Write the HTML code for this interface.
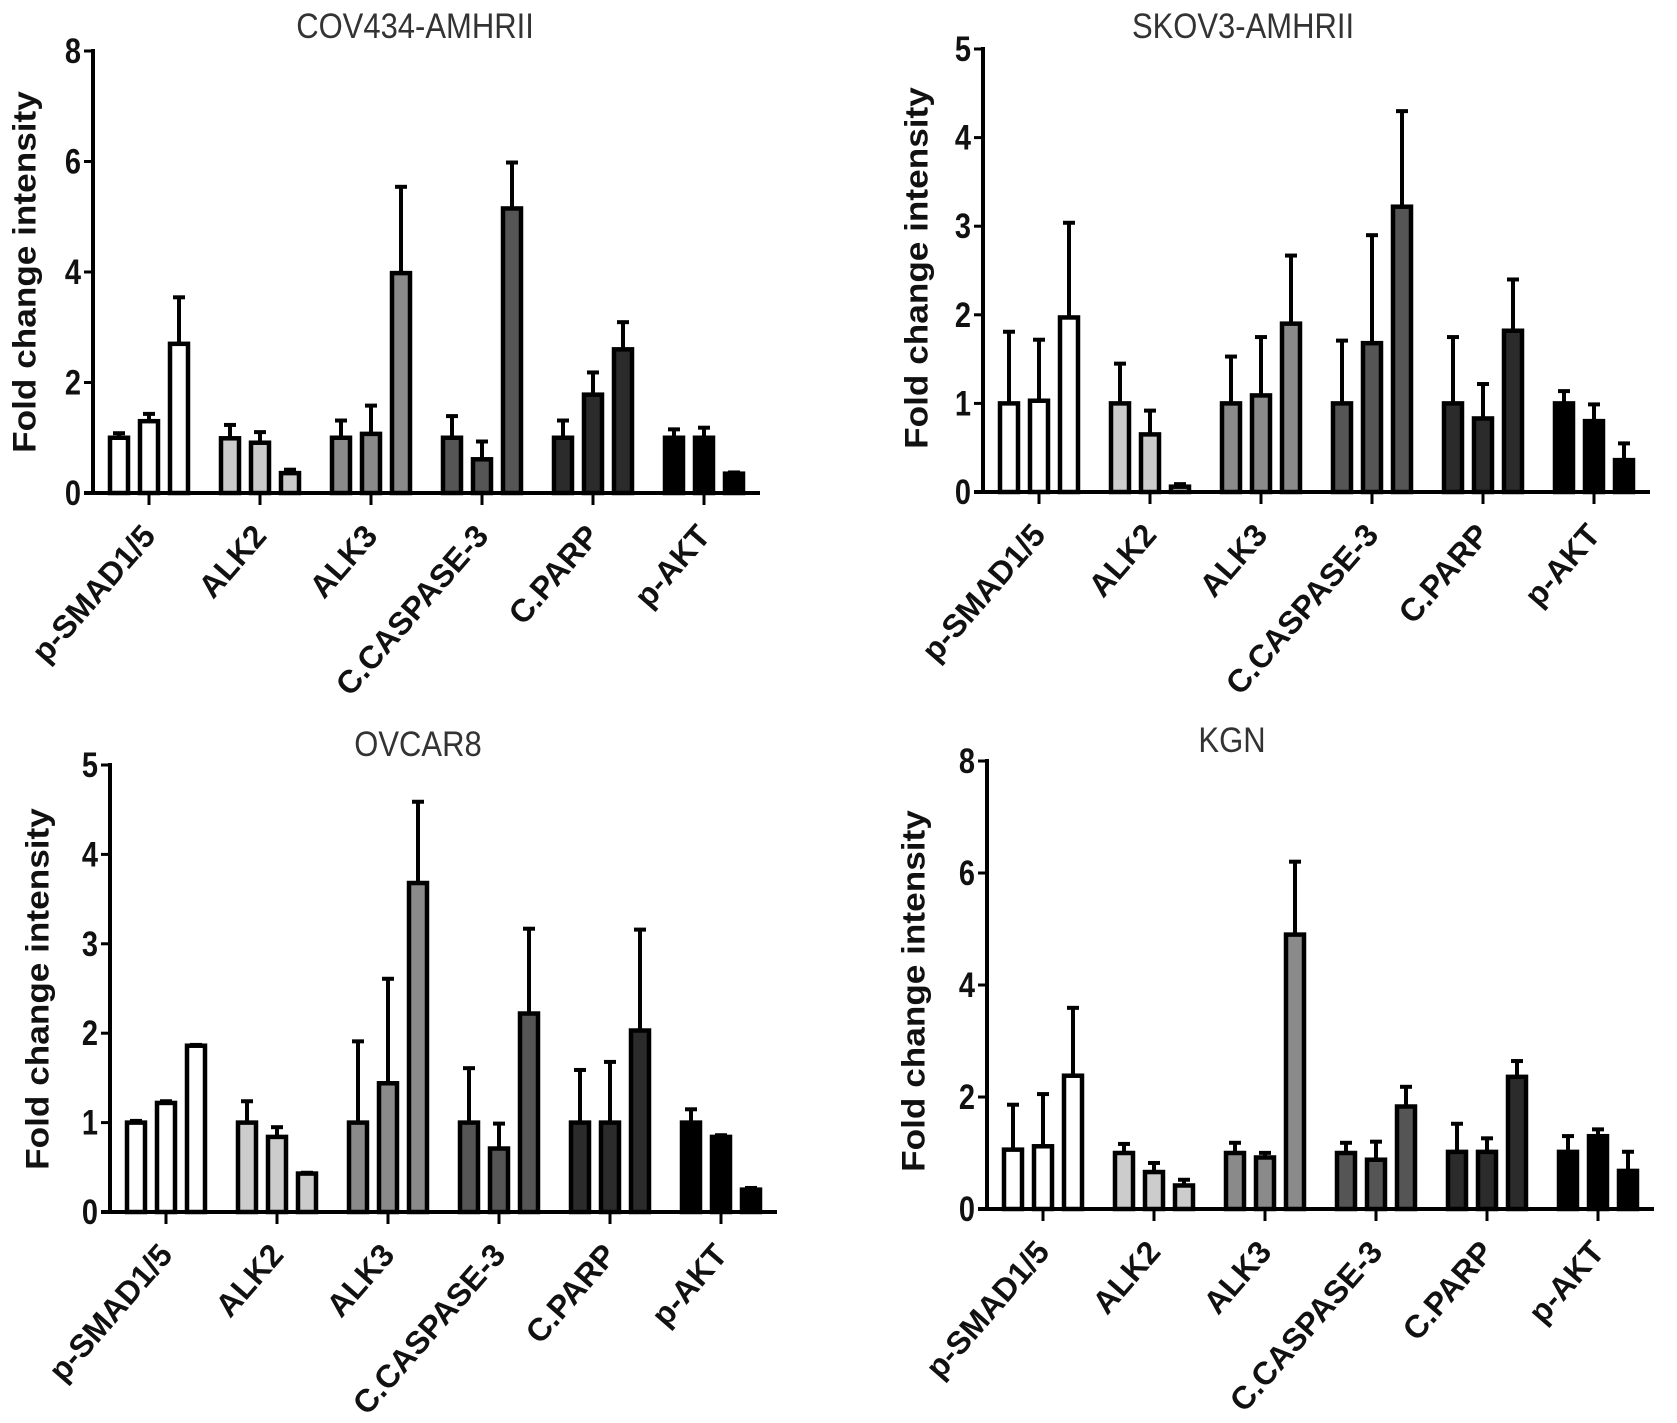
<!DOCTYPE html>
<html><head><meta charset="utf-8"><style>
html,body{margin:0;padding:0;background:#fff;}
svg{display:block;font-family:"Liberation Sans",Arial,sans-serif;}
</style></head><body>
<svg id="chart" width="1677" height="1423" viewBox="0 0 1677 1423" xmlns="http://www.w3.org/2000/svg"></svg>
<script>
const categories = ["p-SMAD1/5","ALK2","ALK3","C.CASPASE-3","C.PARP","p-AKT"];
const groupFills = ["#ffffff","#cccccc","#8a8a8a","#555555","#2b2b2b","#000000"];
const titles = ["COV434-AMHRII","SKOV3-AMHRII","OVCAR8","KGN"];
const yMaxes = [8,5,5,8];
const yTicks1 = [0,2,4,6,8];
const yTicks2 = [0,1,2,3,4,5];
const yTicks3 = [0,1,2,3,4,5];
const yTicks4 = [0,2,4,6,8];
const vals1 = [[1.0,1.3,2.7],[0.99,0.91,0.36],[1.0,1.07,3.98],[1.0,0.61,5.15],[1.0,1.78,2.6],[1.0,1.0,0.35]];
const errs1 = [[1.1,1.45,3.56],[1.25,1.12,0.44],[1.33,1.6,5.56],[1.41,0.95,6.0],[1.33,2.2,3.11],[1.17,1.2,0.39]];
const vals2 = [[1.0,1.03,1.97],[1.0,0.65,0.06],[1.0,1.09,1.9],[1.0,1.68,3.22],[1.0,0.83,1.82],[1.0,0.8,0.36]];
const errs2 = [[1.82,1.73,3.05],[1.46,0.93,0.1],[1.54,1.76,2.68],[1.72,2.91,4.31],[1.76,1.23,2.41],[1.15,1.0,0.56]];
const vals3 = [[1.0,1.22,1.86],[1.0,0.84,0.43],[1.0,1.44,3.68],[1.0,0.71,2.22],[1.0,1.0,2.03],[1.0,0.84,0.25]];
const errs3 = [[1.03,1.25,1.88],[1.25,0.96,0.45],[1.92,2.62,4.6],[1.62,1.0,3.18],[1.6,1.69,3.17],[1.16,0.87,0.28]];
const vals4 = [[1.06,1.12,2.38],[1.0,0.66,0.42],[1.0,0.92,4.9],[1.0,0.88,1.83],[1.02,1.02,2.36],[1.02,1.3,0.68]];
const errs4 = [[1.88,2.07,3.61],[1.18,0.84,0.54],[1.2,1.02,6.22],[1.2,1.22,2.2],[1.54,1.28,2.66],[1.32,1.44,1.04]];

const panels = [
 {ax:93, y0:493, yt:51, title:[415,38], ytl:[27,272], ticks:yTicks1, vals:vals1, errs:errs1},
 {ax:983, y0:492, yt:49, title:[1243,38], ytl:[919,268], ticks:yTicks2, vals:vals2, errs:errs2},
 {ax:110, y0:1212, yt:765, title:[418,756], ytl:[40,989], ticks:yTicks3, vals:vals3, errs:errs3},
 {ax:987, y0:1209, yt:761, title:[1232,752], ytl:[916,991], ticks:yTicks4, vals:vals4, errs:errs4}
];
const NS="http://www.w3.org/2000/svg";
const svg=document.getElementById('chart');
function mk(tag,attrs,parent){const e=document.createElementNS(NS,tag);for(const k in attrs)e.setAttribute(k,attrs[k]);parent.appendChild(e);return e;}

panels.forEach((p,pi)=>{
  const g=mk('g',{},svg);
  
  
  const ymax=yMaxes[pi];
  const yS=v=>p.y0-(v/ymax)*(p.y0-p.yt);
  const xS=i=>p.ax+56+i*111;
  const end=p.ax+667;
  const t=mk('text',{transform:`translate(${p.title[0]},${p.title[1]}) scale(1,1.15)`,'text-anchor':'middle','font-size':31,fill:'#333'},g);
  t.textContent=titles[pi];
  
  
  const yt=mk('text',{transform:`translate(${p.ytl[0]},${p.ytl[1]}) rotate(-90) scale(1.1,1.0)`,'text-anchor':'middle','dominant-baseline':'middle','font-size':32,'font-weight':'bold',fill:'#111'},g);
  yt.textContent='Fold change intensity';
  
  
  p.vals.forEach((grp,ci)=>{
    grp.forEach((v,bi)=>{
      const cx=xS(ci)+(bi-1)*30;
      const top=yS(v), et=yS(p.errs[ci][bi]);
      const el=mk('line',{x1:cx,x2:cx,y1:top,y2:et,stroke:'#000','stroke-width':4},g);
      
      
      const cap=mk('line',{x1:cx-6,x2:cx+6,y1:et+1,y2:et+1,stroke:'#000','stroke-width':4},g);
      
      
      const r=mk('rect',{x:cx-9,y:top,width:18,height:Math.max(p.y0-top,0.5),fill:groupFills[ci],stroke:'#000','stroke-width':4.5},g);
      
      
    });
  });
  const ya=mk('line',{x1:p.ax,x2:p.ax,y1:p.yt-2,y2:p.y0+2,stroke:'#000','stroke-width':4},g);
  
  
  const xa=mk('line',{x1:p.ax-9,x2:end,y1:p.y0,y2:p.y0,stroke:'#000','stroke-width':4},g);
  
  
  p.ticks.forEach(tv=>{
    const y=yS(tv);
    const tl=mk('line',{x1:p.ax-9,x2:p.ax,y1:y,y2:y,stroke:'#000','stroke-width':3},g);
    
    
    const tx=mk('text',{transform:`translate(${p.ax-12},${y+12}) scale(1,1.2)`,'text-anchor':'end','font-size':29,'font-weight':'bold',fill:'#111'},g);
    tx.textContent=tv;
    
    
  });
  categories.forEach((c,ci)=>{
    const x=xS(ci);
    const tl=mk('line',{x1:x,x2:x,y1:p.y0,y2:p.y0+12,stroke:'#000','stroke-width':3},g);
    
    
    const tx=mk('text',{transform:`translate(${x+8},${p.y0+44}) rotate(-49)`,'text-anchor':'end','font-size':32,'font-weight':'bold',fill:'#111'},g);
    tx.textContent=c;
    
    
  });
});
</script>
</body></html>
